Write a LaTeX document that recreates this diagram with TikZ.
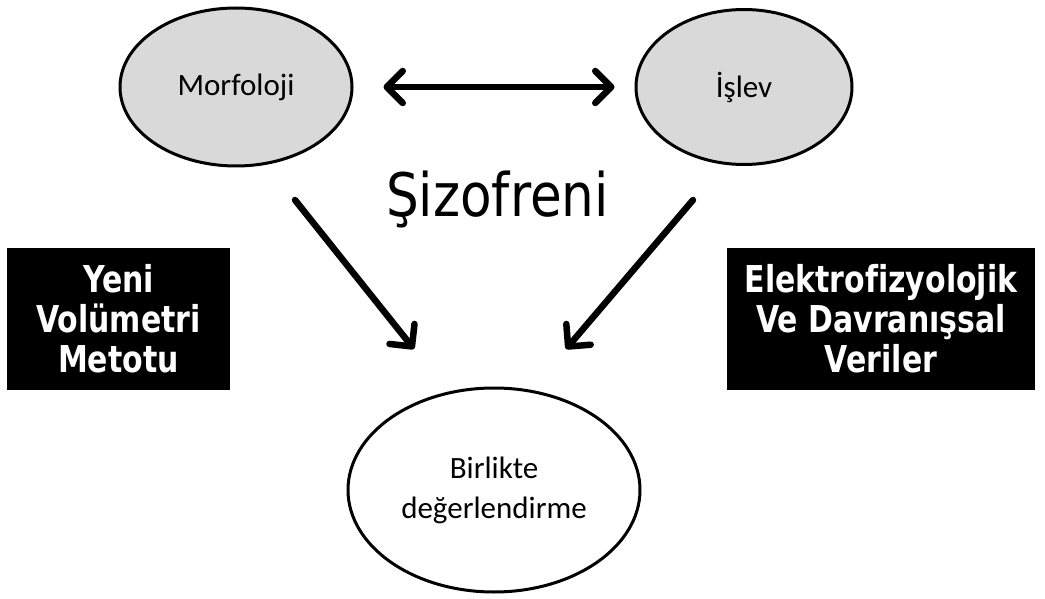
\documentclass[tikz,border=0pt]{standalone}
\usepackage{fontspec}
\setmainfont{Carlito}
\newfontfamily\vfont[FakeStretch=0.86,Ligatures=NoCommon]{DejaVu Sans}
\newfontfamily\bfont[FakeStretch=0.81,Ligatures=NoCommon]{DejaVu Sans Bold}
\usetikzlibrary{arrows.meta,shapes.geometric}
\definecolor{el_grey}{RGB}{217, 217, 217}
\tikzstyle{gn}=[ellipse,fill=el_grey,draw=black,line width=3pt,inner sep=0pt,
  font=\fontsize{31}{40}\selectfont,align=center]
\tikzstyle{wn}=[gn,fill=white]
\tikzstyle{bk}=[rectangle,fill=black,text=white,inner sep=0pt,align=center,
  font=\bfont\fontsize{37}{40}\selectfont]
\tikzstyle{arr}=[line width=6.5pt,line cap=round,
  -{Straight Barb[length=16pt,width=32pt,round]}]
\tikzstyle{none}=[]

\begin{document}
\begin{tikzpicture}[x=1pt,y=-1pt]
            \useasboundingbox (0,0) rectangle (1045,599);
            \node [style=gn,minimum width=232pt,minimum height=158pt] (1) at (236, 87) {Morfoloji};
            \node [style=gn,minimum width=216pt,minimum height=155pt] (2) at (744, 87) {İşlev};
            \node [style=wn,minimum width=292pt,minimum height=204pt] (3) at (494, 490) {Birlikte\\değerlendirme};
            \node [style=none,anchor=base,inner sep=0pt,font=\vfont\fontsize{60}{66}\selectfont] (4) at (497.5, 217) {Şizofreni};
            \node [style=bk,minimum width=223pt,minimum height=142pt] (5) at (118.5, 319) {Yeni\\Volümetri\\Metotu};
            \node [style=bk,minimum width=308pt,minimum height=142pt] (6) at (881, 319) {Elektrofizyolojik\\Ve Davranışsal\\Veriler};
            \node [style=none] (7) at (295, 200) {};
            \node [style=none] (8) at (414, 349) {};
            \node [style=none] (9) at (693, 200) {};
            \node [style=none] (10) at (566, 349) {};
            \draw [style=arr,{Straight Barb[length=16pt,width=32pt,round]}-{Straight Barb[length=16pt,width=32pt,round]},shorten <=30pt,shorten >=20pt] (1) to (2);
            \draw [style=arr] (7.center) to (8.center);
            \draw [style=arr] (9.center) to (10.center);
    \end{tikzpicture}
\end{document}
